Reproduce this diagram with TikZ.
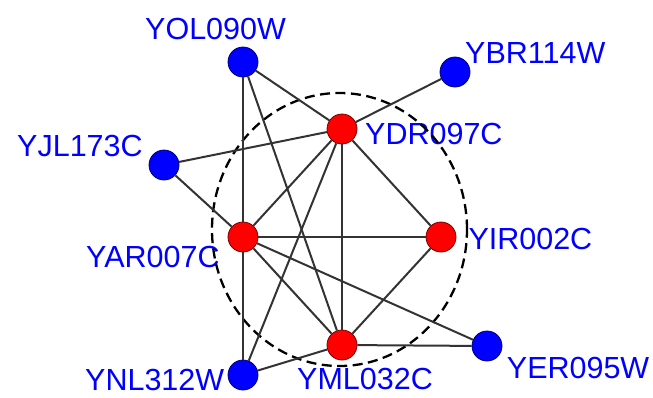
\documentclass[tikz,border=0pt]{standalone}
\usepackage{fontspec}
\newfontfamily\genefont{Liberation Sans}
\usetikzlibrary{positioning}

\begin{document}
\begin{tikzpicture}[x=1pt, y=-1pt,
    core/.style={circle, draw=red!45!black, fill=red, line width=0.8pt, minimum size=30pt, inner sep=0pt},
    partner/.style={circle, draw=blue!45!black, fill=blue, line width=0.8pt, minimum size=30pt, inner sep=0pt},
    gene/.style={anchor=base west, inner sep=0pt, text=blue, font=\genefont\fontsize{30.5}{36}\selectfont},
    link/.style={line width=2pt, black!80}]
\useasboundingbox (0,0) rectangle (653,397);

% gene names
\node[gene] (olt) at (145, 39) {YOL090W};
\node[gene] (jlt) at (17, 156) {YJL173C};
\node[gene] (brt) at (465, 63.3) {YBR114W};
\node[gene] (drt) at (365, 144) {YDR097C};
\node[gene] (art) at (86, 267.3) {YAR007C};
\node[gene] (irt) at (468.3, 249) {YIR002C};
\node[gene] (nlt) at (85, 390.5) {YNL312W};
\node[gene] (mlt) at (297, 389) {YML032C};
\node[gene] (ert) at (506.7, 378.3) {YER095W};

% module boundary
\draw[line width=2.3pt, dash pattern=on 10pt off 5.5pt] (339.5, 229.5) ellipse [x radius=127.5pt, y radius=136.5pt];

\node[partner] (ol) at (243, 62) {};
\node[partner] (jl) at (164, 165) {};
\node[partner] (br) at (455, 72) {};
\node[core] (dr) at (342, 129) {};
\node[core] (ar) at (243, 237) {};
\node[core] (ir) at (441, 237) {};
\node[core] (ml) at (342, 345) {};
\node[partner] (nl) at (243, 375) {};
\node[partner] (er) at (487, 346) {};

\draw
(ol) edge[link] (dr)
(ol) edge[link] (ar)
(ol) edge[link] (ml)
(br) edge[link] (dr)
(jl) edge[link] (dr)
(jl) edge[link] (ar)
(dr) edge[link] (ar)
(dr) edge[link] (ir)
(dr) edge[link] (ml)
(dr) edge[link] (nl)
(ar) edge[link] (ir)
(ar) edge[link] (ml)
(ar) edge[link] (er)
(ar) edge[link] (nl)
(ir) edge[link] (ml)
(ml) edge[link] (er)
(ml) edge[link] (nl);
\end{tikzpicture}
\end{document}
